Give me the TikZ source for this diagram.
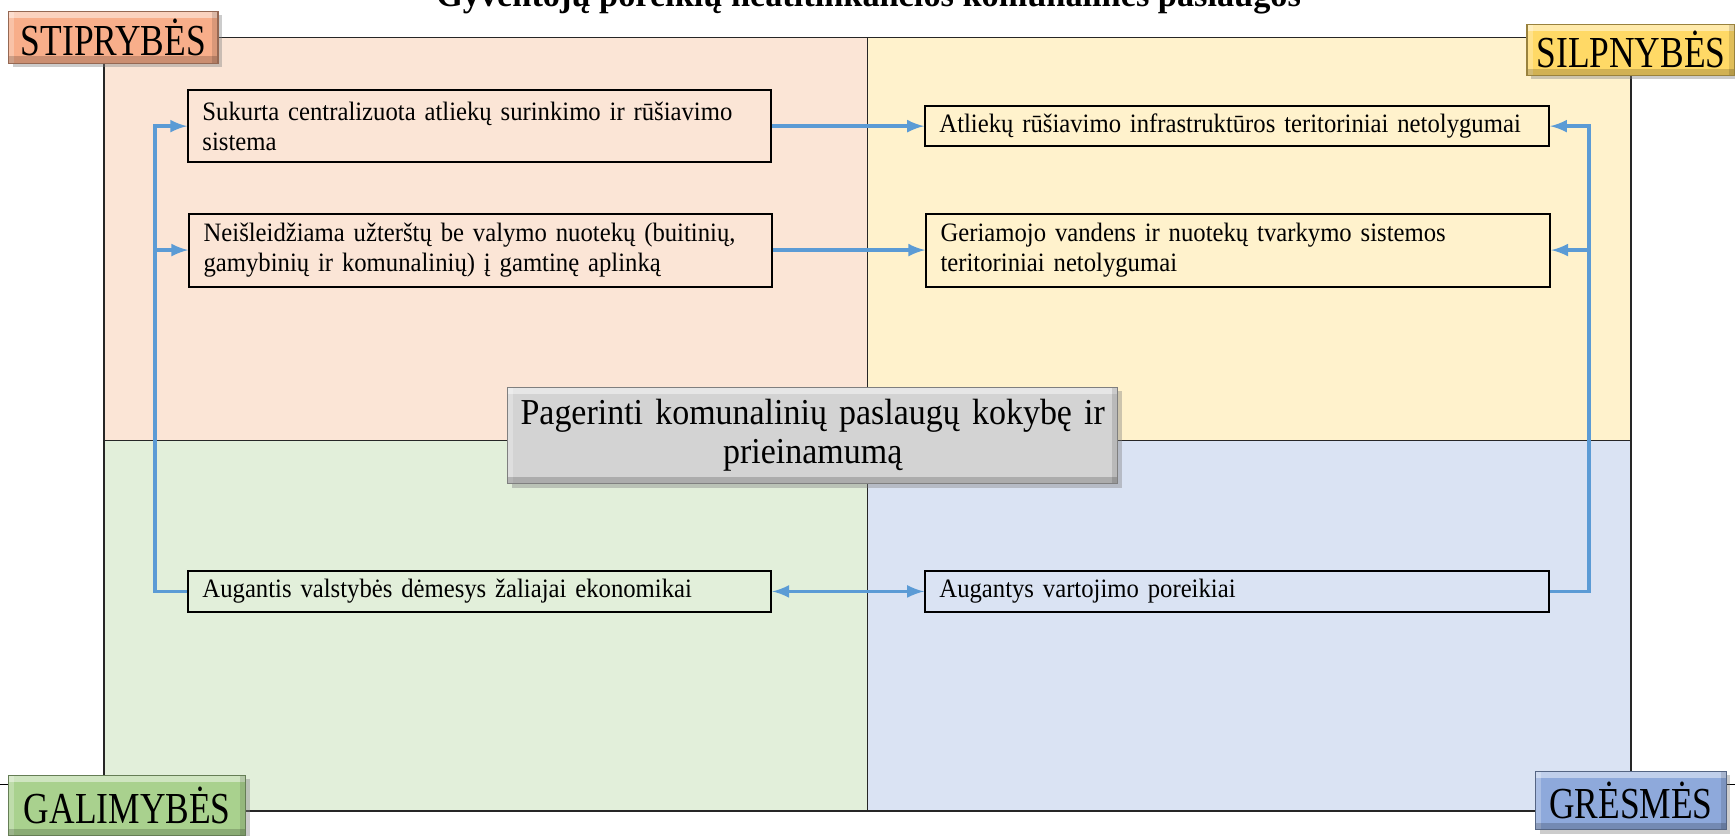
\documentclass[tikz,border=0pt]{standalone}
\usepackage{fontspec}
\setmainfont{Liberation Serif}
\newfontfamily\tagfont{Liberation Serif}[FakeStretch=0.8]
\newfontfamily\goalfont{Liberation Serif}[FakeStretch=0.93]
\newfontfamily\itemfont{Liberation Serif}[FakeStretch=0.93]
\usetikzlibrary{positioning,shadows,calc}

\definecolor{strengthFill}{HTML}{FBE5D6}
\definecolor{weaknessFill}{HTML}{FFF2CC}
\definecolor{chanceFill}{HTML}{E2EFDA}
\definecolor{threatFill}{HTML}{DAE3F3}
\definecolor{flowBlue}{HTML}{5B9BD5}
\definecolor{strengthTag}{HTML}{F8AE8A}
\definecolor{weaknessTag}{HTML}{FFD966}
\definecolor{chanceTag}{HTML}{A9D18E}
\definecolor{threatTag}{HTML}{8EA9DB}
\definecolor{goalTag}{HTML}{D3D3D3}

\def\xLeft{94}
\def\xMid{784}
\def\xRight{1474}
\def\yTop{34}
\def\yMid{398}
\def\yBottom{733}

\begin{document}
\begin{tikzpicture}[x=.5pt, y=-.5pt,
    quadrant/.style={draw=black!85, line width=.7pt},
    itembox/.style={draw=black, line width=.9pt, inner xsep=6.5pt, inner ysep=0pt,
      align=left, font=\itemfont\fontsize{12}{13.6}\selectfont},
    leftbox/.style={itembox, text width=250.5pt},
    rightbox/.style={itembox, text width=269pt},
    bevel/.style={draw=#1!60!black, line width=.5pt, fill=#1,
      drop shadow={shadow xshift=1.8pt, shadow yshift=-1.8pt, opacity=.4},
      path picture={
        \fill[white, opacity=.45] (path picture bounding box.north west) rectangle
          ([yshift=-3pt]path picture bounding box.north east);
        \fill[white, opacity=.25] (path picture bounding box.north west) rectangle
          ([xshift=2.5pt]path picture bounding box.south west);
        \fill[black, opacity=.18] ([yshift=3pt]path picture bounding box.south west) rectangle
          (path picture bounding box.south east);
        \fill[black, opacity=.12] ([xshift=-2.5pt]path picture bounding box.north east) rectangle
          (path picture bounding box.south east);
      }},
    cornertag/.style={bevel=#1, inner sep=0pt, font=\tagfont\fontsize{20}{22}\selectfont},
    flow/.style={draw=flowBlue, line width=1.6pt, -latex},
  ]
  \useasboundingbox (0,0) rectangle (1568,755);

  % --
  \draw[line width=.8pt] (0,709) -- (1568,709);

  \foreach\xa/\ya/\xb/\yb/\tint in {
      \xLeft/\yTop/\xMid/\yMid/strengthFill,
      \xMid/\yTop/\xRight/\yMid/weaknessFill,
      \xLeft/\yMid/\xMid/\yBottom/chanceFill,
      \xMid/\yMid/\xRight/\yBottom/threatFill} {
    \filldraw[quadrant, fill=\tint] (\xa,\ya) rectangle (\xb,\yb);
  }

  \node[font=\bfseries\fontsize{15.5}{17}\selectfont, anchor=base] (title) at (785,6)
    {Gyventojų poreikių neatitinkančios komunalinės paslaugos};

  % -- corner tags
  \node[cornertag=strengthTag, minimum width=94.5pt, minimum height=23.5pt] (tagS) at (102.5,33.5) {STIPRYBĖS};
  \node[cornertag=weaknessTag, minimum width=94pt, minimum height=23pt] (tagW) at (1474,45) {SILPNYBĖS};
  \node[cornertag=chanceTag, minimum width=107pt, minimum height=27.5pt] (tagO) at (115,728) {GALIMYBĖS};
  \node[cornertag=threatTag, minimum width=86pt, minimum height=26.5pt] (tagT) at (1474,723.5) {GRĖSMĖS};

  % -- items
  \node[leftbox, minimum height=32.5pt] (strengthA) at (433.5,114)
    {Sukurta centralizuota atliekų surinkimo ir rūšiavimo\\sistema};
  \node[leftbox, minimum height=33pt] (strengthB) at (434.5,226)
    {Neišleidžiama užterštų be valymo nuotekų (buitinių,\\gamybinių ir komunalinių) į gamtinę aplinką};
  \node[rightbox, minimum height=18pt] (weakA) at (1118,114)
    {Atliekų rūšiavimo infrastruktūros teritoriniai netolygumai};
  \node[rightbox, minimum height=33pt] (weakB) at (1119,226)
    {Geriamojo vandens ir nuotekų tvarkymo sistemos\\teritoriniai netolygumai};
  \node[leftbox, minimum height=18.5pt] (chance) at (433.5,534.5)
    {Augantis valstybės dėmesys žaliajai ekonomikai};
  \node[rightbox, minimum height=18.5pt] (threat) at (1118,534.5)
    {Augantys vartojimo poreikiai};

  % -- links
  \draw[flow] (strengthA.east) -- (weakA.west);
  \draw[flow] (strengthB.east) -- (weakB.west);
  \draw[flow, latex-latex] (chance.east) -- (threat.west);

  \coordinate (westBus) at (140,534.5);
  \coordinate (eastBus) at (1436,534.5);
  \draw[flow] (chance.west) -- (westBus) |- (strengthA.west);
  \draw[flow] (westBus) |- (strengthB.west);
  \draw[flow] (threat.east) -- (eastBus) |- (weakA.east);
  \draw[flow] (eastBus) |- (weakB.east);

  % -- goal
  \node[bevel=goalTag, minimum width=275.5pt, minimum height=43.5pt, text width=265pt,
      align=center, inner sep=0pt, font=\goalfont\fontsize{16.5}{17.5}\selectfont] (goal) at (734.5,393.5)
    {Pagerinti komunalinių paslaugų kokybę ir\\prieinamumą};

\end{tikzpicture}
\end{document}
